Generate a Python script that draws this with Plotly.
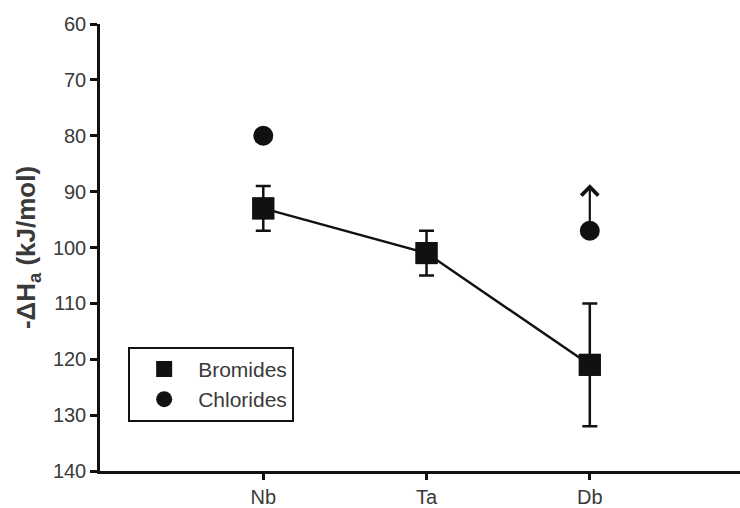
import plotly.graph_objects as go

# Elements (group 5) and adsorption enthalpies, -ΔHa in kJ/mol
elements = ["Nb", "Ta", "Db"]
bromide_values = [93, 101, 121]
bromide_err_plus = [4, 4, 11]   # toward larger -ΔHa (down on the reversed axis)
bromide_err_minus = [4, 4, 11]

chloride_elements = ["Nb", "Db"]
chloride_values = [80, 97]
# Db chloride is a lower limit: arrow points toward this value
chloride_limit_element = "Db"
chloride_limit_tip = 88.7

y_ticks = [60, 70, 80, 90, 100, 110, 120, 130, 140]

ink = "#111111"
label_col = "#3a3a3a"
font_family = "Liberation Sans, Arial, sans-serif"

fig = go.Figure()

# Bromides: connecting line with error bars (kept out of the legend)
fig.add_trace(go.Scatter(
    x=elements, y=bromide_values, mode="lines+markers",
    line=dict(color=ink, width=2.5),
    marker=dict(symbol="square", size=22, color=ink),
    error_y=dict(type="data", symmetric=False,
                 array=bromide_err_plus, arrayminus=bromide_err_minus,
                 color=ink, thickness=2.5, width=7.5),
    showlegend=False, hoverinfo="skip",
))
# Legend entry for bromides
fig.add_trace(go.Scatter(
    x=elements, y=bromide_values, mode="markers", name="Bromides",
    marker=dict(symbol="square", size=22, color=ink),
))
# Chlorides
fig.add_trace(go.Scatter(
    x=chloride_elements, y=chloride_values, mode="markers", name="Chlorides",
    marker=dict(symbol="circle", size=20, color=ink),
))

# Lower-limit arrow on the Db chloride point
db_idx = elements.index(chloride_limit_element)
fig.add_annotation(
    x=db_idx, y=chloride_limit_tip, ax=db_idx,
    ay=chloride_values[chloride_elements.index(chloride_limit_element)],
    xref="x", yref="y", axref="x", ayref="y",
    showarrow=True, arrowhead=4, arrowsize=1.5, arrowwidth=2.2,
    arrowcolor=ink, standoff=0, startstandoff=0, text="",
)

fig.update_layout(
    width=740, height=508,
    margin=dict(l=100, r=0, t=24, b=34),
    paper_bgcolor="white", plot_bgcolor="white",
    font=dict(family=font_family, size=20, color=label_col),
    legend=dict(
        x=0.044, y=0.278, xanchor="left", yanchor="top",
        bgcolor="white", bordercolor=ink, borderwidth=2,
        font=dict(size=21, color=label_col),
        itemsizing="trace", itemwidth=58, tracegroupgap=0,
    ),
    xaxis=dict(
        type="category", categoryorder="array", categoryarray=elements,
        range=[-1.0, 2.92],
        showline=True, linecolor=ink, linewidth=2.5,
        ticks="outside", ticklen=6, tickwidth=2.5, tickcolor=ink,
        showgrid=False, zeroline=False,
        tickfont=dict(size=20, color=label_col),
    ),
    yaxis=dict(
        range=[140, 60], tickvals=y_ticks,
        showline=True, linecolor=ink, linewidth=2.5,
        ticks="outside", ticklen=7, tickwidth=2.5, tickcolor=ink,
        showgrid=False, zeroline=False,
        tickfont=dict(size=20, color=label_col),
        title=dict(text="<b>-ΔH<sub>a</sub> (kJ/mol)</b>",
                   font=dict(size=26, color=label_col), standoff=10),
    ),
)

fig.write_html("out.html")
